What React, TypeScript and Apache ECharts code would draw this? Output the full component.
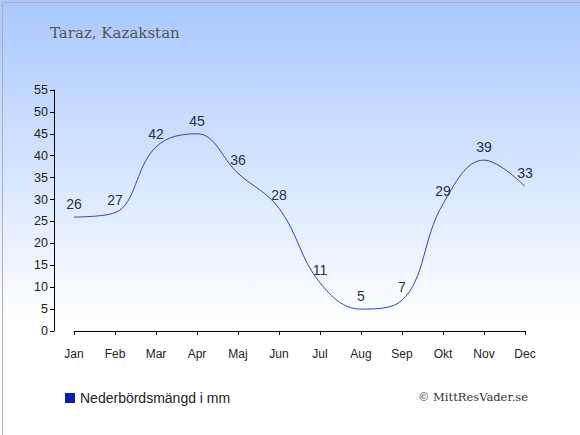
import React, { useEffect, useRef } from "react";
import * as echarts from "echarts";

const months = ["Jan", "Feb", "Mar", "Apr", "Maj", "Jun", "Jul", "Aug", "Sep", "Okt", "Nov", "Dec"];
const precipitation = [26, 27, 42, 45, 36, 28, 11, 5, 7, 29, 39, 33];
const seriesName = "Nederbördsmängd i mm";
const titleText = "Taraz, Kazakstan";
const copyright = "© MittResVader.se";

export default function App() {
  const ref = useRef<HTMLDivElement>(null);
  useEffect(() => {
    document.body.style.margin = "0";
    const chart = echarts.init(ref.current!, null, { renderer: "svg" });
    chart.setOption({
      animation: false,
      backgroundColor: new echarts.graphic.LinearGradient(0, 0, 0, 1, [
        { offset: 0, color: "#a8c8fe" },
        { offset: 0.74, color: "#ffffff" },
        { offset: 1, color: "#ffffff" },
      ]),
      title: {
        text: titleText,
        left: 45,
        top: 20,
        textStyle: { fontFamily: "DejaVu Serif", fontWeight: "normal", fontSize: 15, color: "#555555" },
      },
      legend: {
        left: 60,
        top: 386,
        icon: "rect",
        itemWidth: 10,
        itemHeight: 10,
        itemGap: 5,
        textStyle: { fontFamily: "Liberation Sans", fontSize: 14, color: "#222222" },
        data: [{ name: seriesName, itemStyle: { color: "#0a1fad" } }],
      },
      grid: { left: 74, right: 55, top: 90, bottom: 104, containLabel: false },
      xAxis: {
        type: "category",
        data: months,
        boundaryGap: false,
        offset: 10,
        axisLine: { lineStyle: { color: "#000000", width: 1 } },
        axisTick: { alignWithLabel: true, length: 4, lineStyle: { color: "#000000" } },
        axisLabel: { fontFamily: "Liberation Sans", fontSize: 12, color: "#222222", margin: 7 },
        splitLine: { show: false },
      },
      yAxis: {
        type: "value",
        min: 0,
        max: 55,
        interval: 5,
        offset: 20,
        axisLine: { show: true, lineStyle: { color: "#000000", width: 1 } },
        axisTick: { show: true, length: 4, lineStyle: { color: "#000000" } },
        axisLabel: { fontFamily: "Liberation Sans", fontSize: 12.5, color: "#222222", margin: 6 },
        splitLine: { show: false },
      },
      series: [
        {
          name: seriesName,
          type: "line",
          data: precipitation,
          smooth: 0.4,
          symbol: "circle",
          symbolSize: 0,
          showSymbol: true,
          lineStyle: { color: "#3040c8", width: 1 },
          itemStyle: { color: "#0a1fad" },
          label: {
            show: true,
            position: "top",
            distance: 6,
            fontFamily: "Liberation Sans",
            fontSize: 14,
            color: "#1f2f4f",
          },
        },
      ],
      graphic: [
        {
          type: "text",
          right: 52,
          top: 391,
          style: { text: copyright, fontFamily: "DejaVu Serif", fontSize: 11.5, fill: "#333333" },
        },
        {
          type: "rect",
          left: 0,
          top: 0,
          shape: { x: 0.5, y: 0.5, width: 579, height: 434 },
          style: { fill: "none", stroke: "#b0b0b0", lineWidth: 1 },
          silent: true,
        },
      ],
    });
    return () => chart.dispose();
  }, []);
  return <div ref={ref} style={{ width: 580, height: 435 }} />;
}
